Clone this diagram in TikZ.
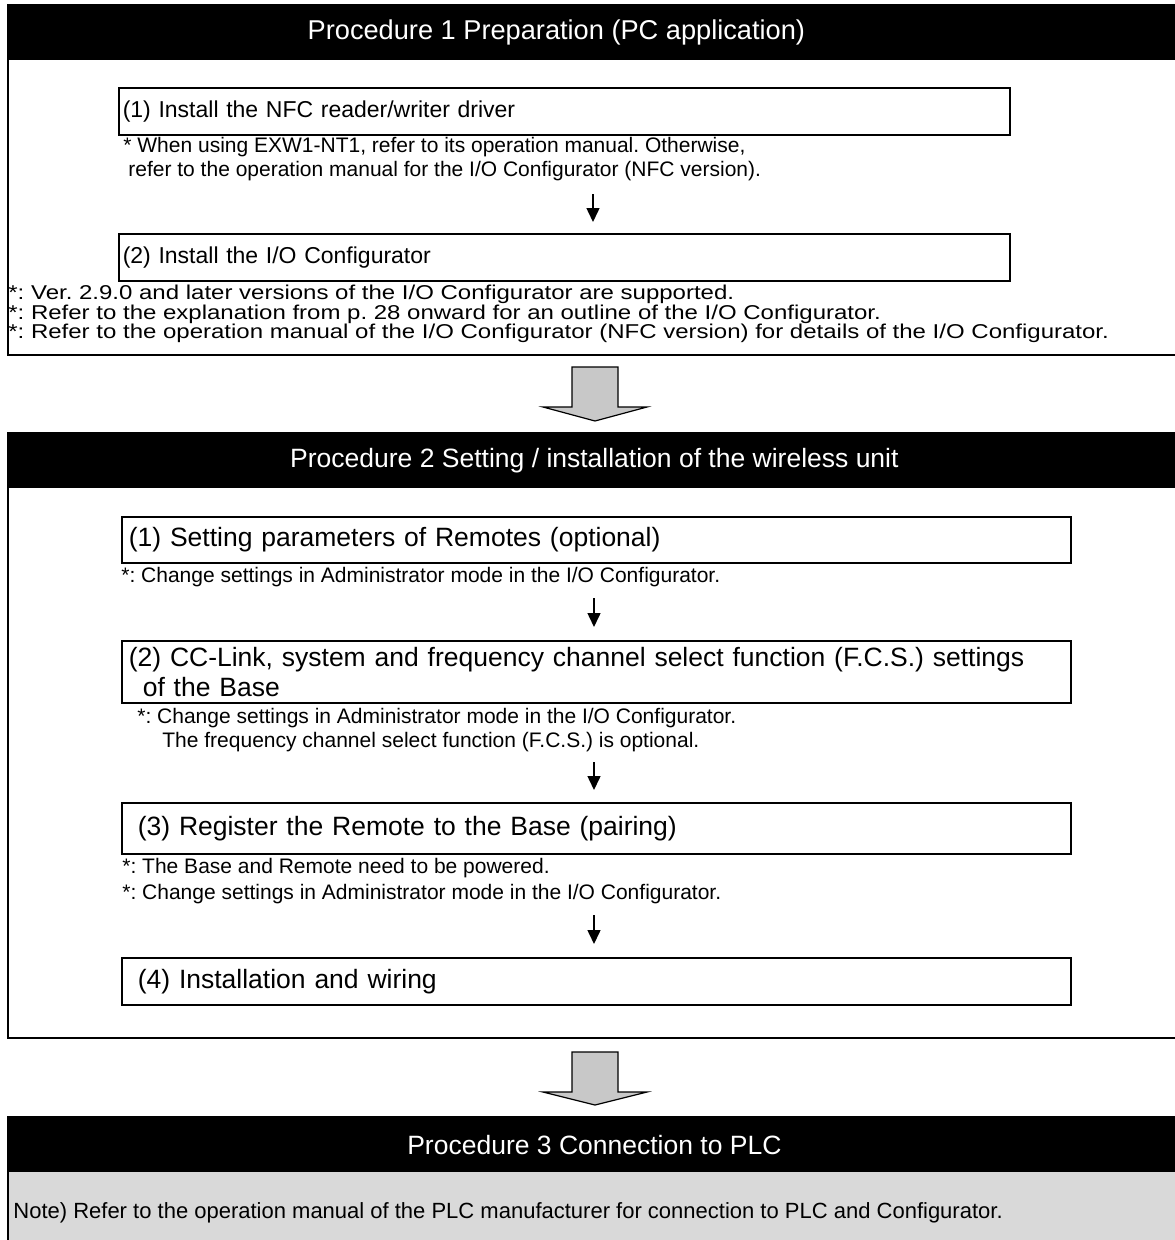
\documentclass[tikz,border=0pt]{standalone}
\usepackage{fontspec}
\setmainfont{Liberation Sans}
\newfontfamily\widefont[FakeStretch=1.2]{Liberation Sans}
\usepackage{xcolor}
\usetikzlibrary{positioning, arrows.meta}
\definecolor{arrowgray}{HTML}{C8C8C8}
\definecolor{notegray}{HTML}{D9D9D9}
\tikzset{every picture/.append style={thick}}
\tikzset{
    panel/.style={draw=black, line width=1.6pt},
    header/.style={fill=black, text=white, anchor=north west, minimum width=1172pt,
        minimum height=55pt, inner sep=0pt, font=\fontsize{26.5}{30}\selectfont},
    stepbox/.style={draw=black, line width=1.6pt, anchor=north west, align=left, inner ysep=0pt},
    smallstep/.style={stepbox, text width=883pt, inner xsep=4pt, minimum height=47pt,
        font=\fontsize{23}{26}\selectfont},
    largestep/.style={stepbox, text width=935pt, inner xsep=7pt,
        font=\fontsize{26.5}{30}\selectfont},
    note/.style={anchor=west, align=left, inner sep=0pt, font=\fontsize{21}{23.5}\selectfont},
    stepdown/.style={line width=1.5pt, -{Triangle[width=13pt,length=14pt]}},
    bigarrow/.style={fill=arrowgray, draw=black, line width=1.2pt},
}

\begin{document}
\frenchspacing
\begin{tikzpicture}[x=1pt, y=-1pt]
    \useasboundingbox (0,0) rectangle (1175,1240);
    \clip (0,0) rectangle (1175,1240);

    % Procedure 1
    \draw[panel] (8,5) rectangle (1180,355);
    \node[header, font=\fontsize{27.2}{30}\selectfont] (hdr1) at (8,5)
        {\hspace*{-76pt}Procedure 1 Preparation (PC application)};

    \node[smallstep] (nfc) at (118,87) {(1) Install the NFC reader/writer driver};
    \node[note] (nfcnote) at (123,159) {* When using EXW1-NT1, refer to its operation manual. Otherwise,\\
        \hspace*{5pt}refer to the operation manual for the I/O Configurator (NFC version).};
    \coordinate (a1s) at (593,194);
    \coordinate (a1e) at (593,222);
    \draw[stepdown] (a1s) -- (a1e);

    \node[smallstep] (iocfg) at (118,233) {(2) Install the I/O Configurator};
    \node[note, font=\widefont\fontsize{20}{19.2}\selectfont] (iocfgnote) at (8,314)
        {*: Ver. 2.9.0 and later versions of the I/O Configurator are supported.\\
        *: Refer to the explanation from p. 28 onward for an outline of the I/O Configurator.\\
        *: Refer to the operation manual of the I/O Configurator (NFC version) for details of the I/O Configurator.};

    % Big arrow 1 -> 2
    \filldraw[bigarrow] (572,367) -- (618,367) -- (618,407) -- (647,407) -- (595,421)
        -- (543,407) -- (572,407) -- cycle;

    % Procedure 2
    \draw[panel] (8,433) rectangle (1180,1038);
    \node[header] (hdr2) at (8,433) {Procedure 2 Setting / installation of the wireless unit};

    \node[largestep, minimum height=46pt] (remote) at (121,516) {(1) Setting parameters of Remotes (optional)};
    \node[note] (remotenote) at (121,577) {*: Change settings in Administrator mode in the I/O Configurator.};
    \coordinate (b1s) at (594,598);
    \coordinate (b1e) at (594,627);
    \draw[stepdown] (b1s) -- (b1e);

    \node[largestep, minimum height=62pt] (base) at (121,640)
        {(2) CC-Link, system and frequency channel select function (F.C.S.) settings\\
        \hspace*{14pt}of the Base};
    \node[note] (basenote) at (137,730) {*: Change settings in Administrator mode in the I/O Configurator.\\
        \hspace*{25pt}The frequency channel select function (F.C.S.) is optional.};
    \coordinate (b2s) at (594,762);
    \coordinate (b2e) at (594,790);
    \draw[stepdown] (b2s) -- (b2e);

    \node[largestep, inner xsep=16pt, text width=917pt, minimum height=51pt] (pair) at (121,802)
        {(3) Register the Remote to the Base (pairing)};
    \node[note, font=\fontsize{21}{26}\selectfont] (pairnote) at (122,881)
        {*: The Base and Remote need to be powered.\\
        *: Change settings in Administrator mode in the I/O Configurator.};
    \coordinate (b3s) at (594,915);
    \coordinate (b3e) at (594,944);
    \draw[stepdown] (b3s) -- (b3e);

    \node[largestep, inner xsep=16pt, text width=917pt, minimum height=47pt] (wiring) at (121,957)
        {(4) Installation and wiring};

    % Big arrow 2 -> 3
    \filldraw[bigarrow] (572,1052) -- (618,1052) -- (618,1092) -- (647,1092) -- (595,1105)
        -- (543,1092) -- (572,1092) -- cycle;

    % Procedure 3
    \draw[panel, fill=notegray] (8,1117) rectangle (1180,1250);
    \node[header] (hdr3) at (8,1117) {Procedure 3 Connection to PLC};
    \node[note, font=\fontsize{22}{25}\selectfont] (plcnote) at (13,1213)
        {Note) Refer to the operation manual of the PLC manufacturer for connection to PLC and Configurator.};
\end{tikzpicture}
\end{document}
